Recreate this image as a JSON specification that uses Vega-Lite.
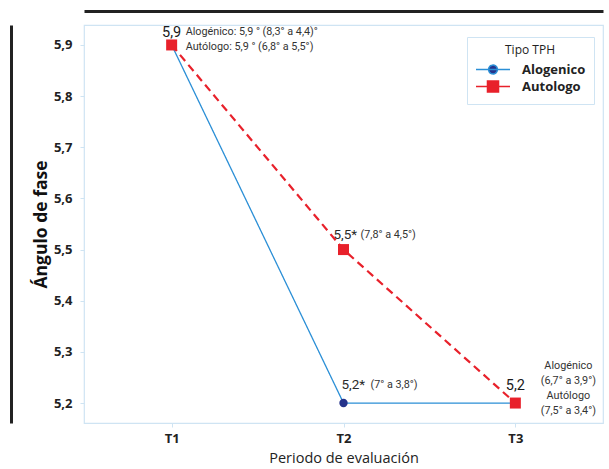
{
  "$schema": "https://vega.github.io/schema/vega-lite/v6.json",
  "width": 519,
  "height": 398,
  "autosize": "none",
  "padding": {"left": 84, "top": 25, "right": 6, "bottom": 46},
  "background": "white",
  "config": {
    "view": {"stroke": "#cfe4f3", "strokeWidth": 1.2},
    "font": "Open Sans"
  },
  "datasets": {
    "datos": [
      {"periodo": "T1", "tipo": "Alogenico", "valor": 5.9},
      {"periodo": "T2", "tipo": "Alogenico", "valor": 5.2},
      {"periodo": "T3", "tipo": "Alogenico", "valor": 5.2},
      {"periodo": "T1", "tipo": "Autologo", "valor": 5.9},
      {"periodo": "T2", "tipo": "Autologo", "valor": 5.5},
      {"periodo": "T3", "tipo": "Autologo", "valor": 5.2}
    ],
    "notas": [
      {"id": "a", "periodo": "T1", "valor": 5.9, "texto": "5,9"},
      {"id": "b", "periodo": "T1", "valor": 5.9, "texto": "Alogénico: 5,9 ° (8,3° a 4,4)°"},
      {"id": "c", "periodo": "T1", "valor": 5.9, "texto": "Autólogo: 5,9 ° (6,8° a 5,5°)"},
      {"id": "d", "periodo": "T2", "valor": 5.5, "texto": "5,5*"},
      {"id": "e", "periodo": "T2", "valor": 5.5, "texto": "(7,8° a 4,5°)"},
      {"id": "f", "periodo": "T2", "valor": 5.2, "texto": "5,2*"},
      {"id": "g", "periodo": "T2", "valor": 5.2, "texto": "(7° a 3,8°)"},
      {"id": "h", "periodo": "T3", "valor": 5.2, "texto": "5,2"},
      {"id": "i", "periodo": "T3", "valor": 5.2, "texto": "Alogénico\n(6,7° a 3,9°)\nAutólogo\n(7,5° a 3,4°)"}
    ]
  },
  "resolve": {"axis": {"x": "independent", "y": "independent"}},
  "layer": [
    {
      "encoding": {
        "x": {
          "field": "periodo",
          "type": "nominal",
          "scale": {"type": "point", "domain": ["T1", "T2", "T3"], "padding": 0.51},
          "axis": {
            "orient": "bottom",
            "labelAngle": 0,
            "labelFont": "Open Sans",
            "labelFontWeight": "bold",
            "labelFontSize": 13,
            "labelColor": "#222222",
            "labelPadding": 5,
            "tickColor": "#cfe4f3",
            "tickSize": 4,
            "domain": false,
            "grid": false,
            "title": "Periodo de evaluación",
            "titleFont": "Open Sans",
            "titleFontSize": 14.5,
            "titleFontWeight": "normal",
            "titleColor": "#222222",
            "titlePadding": 6
          }
        },
        "y": {
          "field": "valor",
          "type": "quantitative",
          "scale": {"domain": [5.161, 5.939], "nice": false, "zero": false},
          "axis": {
            "orient": "left",
            "values": [5.2, 5.3, 5.4, 5.5, 5.6, 5.7, 5.8, 5.9],
            "labelExpr": "replace(format(datum.value, '.1f'), '.', ',')",
            "labelFont": "Open Sans",
            "labelFontWeight": "bold",
            "labelFontSize": 13,
            "labelColor": "#222222",
            "labelPadding": 8,
            "tickColor": "#cfe4f3",
            "tickSize": 4,
            "domain": false,
            "grid": false,
            "title": "Ángulo de fase",
            "titleFont": "Open Sans",
            "titleFontSize": 17.5,
            "titleFontWeight": "bold",
            "titleColor": "#111111",
            "titlePadding": 3
          }
        }
      },
      "layer": [
        {
          "data": {"name": "datos"},
          "mark": {"type": "line"},
          "encoding": {
            "color": {
              "field": "tipo",
              "type": "nominal",
              "scale": {"domain": ["Alogenico", "Autologo"], "range": ["#2b8fd6", "#e8212b"]},
              "legend": {
                "title": "Tipo TPH",
                "orient": "none",
                "legendX": 383,
                "legendY": 12,
                "titleAnchor": "middle",
                "titleFont": "Open Sans",
                "titleFontSize": 12,
                "titleFontWeight": "normal",
                "titleColor": "#222222",
                "titlePadding": 3,
                "labelFont": "Open Sans",
                "labelFontSize": 13,
                "labelFontWeight": "bold",
                "labelColor": "#222222",
                "labelOffset": 28,
                "strokeColor": "#cfe4f3",
                "fillColor": "white",
                "padding": 8,
                "rowPadding": -2,
                "symbolSize": 289,
                "symbolStrokeWidth": 1.5,
                "symbolDash": [1, 0],
                "symbolType": "M-1,0H3",
                "encode": {
                  "symbols": {
                    "update": {
                      "shape": {"signal": "datum.value === 'Alogenico' ? 'M-1,0H3M0.48,0A0.52,0.52 0 1 1 1.52,0A0.52,0.52 0 1 1 0.48,0Z' : 'M-1,0H3M0.35,-0.65H1.65V0.65H0.35Z'"},
                      "fill": {"signal": "datum.value === 'Alogenico' ? '#25338b' : '#e8212b'"},
                      "stroke": {"signal": "datum.value === 'Alogenico' ? '#2b8fd6' : '#e8212b'"},
                      "strokeDash": {"value": [1, 0]},
                      "opacity": {"value": 1}
                    }
                  }
                }
              }
            },
            "strokeDash": {"condition": {"test": "datum.tipo === 'Autologo'", "value": [8, 5]}, "value": [1, 0]},
            "strokeWidth": {"condition": {"test": "datum.tipo === 'Autologo'", "value": 2.2}, "value": 1.3}
          }
        },
        {
          "data": {"name": "datos"},
          "transform": [{"filter": "datum.tipo === 'Alogenico'"}],
          "mark": {"type": "circle", "size": 70, "color": "#25338b", "opacity": 1}
        },
        {
          "data": {"name": "notas"},
          "transform": [{"filter": "datum.id === 'a'"}],
          "mark": {"type": "text", "font": "Roboto", "fontSize": 14.5, "color": "#1a1a1a", "align": "center", "baseline": "middle", "dy": -12},
          "encoding": {"text": {"field": "texto"}}
        },
        {
          "data": {"name": "notas"},
          "transform": [{"filter": "datum.id === 'b'"}],
          "mark": {"type": "text", "font": "Roboto", "fontSize": 10.8, "color": "#333333", "align": "left", "baseline": "middle", "dx": 14, "dy": -13},
          "encoding": {"text": {"field": "texto"}}
        },
        {
          "data": {"name": "notas"},
          "transform": [{"filter": "datum.id === 'c'"}],
          "mark": {"type": "text", "font": "Roboto", "fontSize": 10.8, "color": "#333333", "align": "left", "baseline": "middle", "dx": 14, "dy": 2},
          "encoding": {"text": {"field": "texto"}}
        },
        {
          "data": {"name": "notas"},
          "transform": [{"filter": "datum.id === 'd'"}],
          "mark": {"type": "text", "font": "Roboto", "fontSize": 13.5, "color": "#2a2a2a", "align": "left", "baseline": "middle", "dx": -10, "dy": -15},
          "encoding": {"text": {"field": "texto"}}
        },
        {
          "data": {"name": "notas"},
          "transform": [{"filter": "datum.id === 'e'"}],
          "mark": {"type": "text", "font": "Roboto", "fontSize": 10.8, "color": "#333333", "align": "left", "baseline": "middle", "dx": 17, "dy": -15},
          "encoding": {"text": {"field": "texto"}}
        },
        {
          "data": {"name": "notas"},
          "transform": [{"filter": "datum.id === 'f'"}],
          "mark": {"type": "text", "font": "Roboto", "fontSize": 13.5, "color": "#2a2a2a", "align": "left", "baseline": "middle", "dx": -2, "dy": -18},
          "encoding": {"text": {"field": "texto"}}
        },
        {
          "data": {"name": "notas"},
          "transform": [{"filter": "datum.id === 'g'"}],
          "mark": {"type": "text", "font": "Roboto", "fontSize": 10.8, "color": "#333333", "align": "left", "baseline": "middle", "dx": 27, "dy": -18},
          "encoding": {"text": {"field": "texto"}}
        },
        {
          "data": {"name": "notas"},
          "transform": [{"filter": "datum.id === 'h'"}],
          "mark": {"type": "text", "font": "Roboto", "fontSize": 14.5, "color": "#1a1a1a", "align": "center", "baseline": "middle", "dy": -17},
          "encoding": {"text": {"field": "texto"}}
        },
        {
          "data": {"name": "notas"},
          "transform": [{"filter": "datum.id === 'i'"}],
          "mark": {"type": "text", "font": "Roboto", "fontSize": 10.8, "color": "#333333", "align": "center", "baseline": "middle", "dx": 53, "dy": -37, "lineBreak": "\n", "lineHeight": 15},
          "encoding": {"text": {"field": "texto"}}
        }
      ]
    },
    {
      "data": {"name": "datos"},
      "transform": [{"filter": "datum.tipo === 'Autologo'"}],
      "mark": {"type": "square", "size": 121, "color": "#e8212b", "opacity": 1},
      "encoding": {
        "x": {
          "field": "periodo",
          "type": "nominal",
          "axis": {"orient": "top", "offset": 14, "labels": false, "ticks": false, "grid": false, "title": null, "domain": true, "domainColor": "#222222", "domainWidth": 3}
        },
        "y": {
          "field": "valor",
          "type": "quantitative",
          "axis": {"orient": "left", "offset": 73, "labels": false, "ticks": false, "grid": false, "title": null, "domain": true, "domainColor": "#222222", "domainWidth": 3}
        }
      }
    }
  ]
}
